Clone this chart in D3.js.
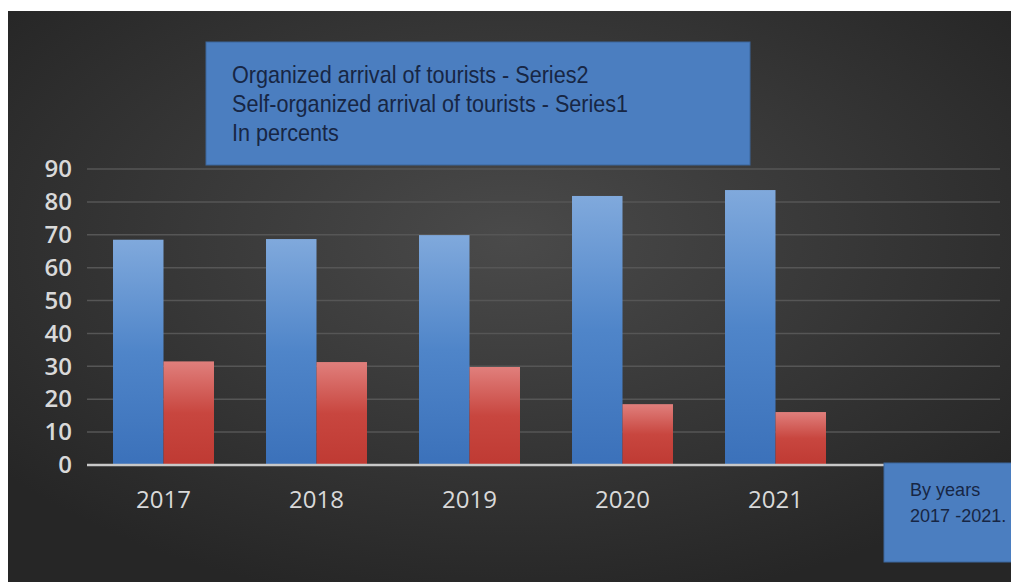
<!DOCTYPE html>
<html>
<head>
<meta charset="utf-8">
<script src="https://cdn.jsdelivr.net/npm/d3@7"></script>
<style>
  body { margin: 0; background: #fff; }
  svg { display: block; }
</style>
</head>
<body>
<svg id="chart" width="1011" height="582"></svg>
<script>
// data
var years = ['2017', '2018', '2019', '2020', '2021'];
var organized = [68.5, 68.7, 69.9, 81.8, 83.6];      // Series2
var selfOrganized = [31.5, 31.3, 29.8, 18.5, 16.1];  // Series1
var yTicks = [0, 10, 20, 30, 40, 50, 60, 70, 80, 90];
var titleLines = [
  'Organized arrival of tourists - Series2',
  'Self-organized arrival of tourists - Series1',
  'In percents'
];
var noteLines = ['By years', '2017 -2021.'];

var svg = d3.select('#chart');
var defs = svg.append('defs');

// background
var bg = defs.append('radialGradient').attr('id', 'bg')
  .attr('cx', '50%').attr('cy', '40%').attr('r', '65%');
bg.append('stop').attr('offset', '0%').attr('stop-color', '#4a4a4a');
bg.append('stop').attr('offset', '100%').attr('stop-color', '#262626');

function barGrad(id, top, mid, bottom) {
  var g = defs.append('linearGradient').attr('id', id)
    .attr('x1', 0).attr('y1', 0).attr('x2', 0).attr('y2', 1);
  g.append('stop').attr('offset', '0%').attr('stop-color', top);
  g.append('stop').attr('offset', '50%').attr('stop-color', mid);
  g.append('stop').attr('offset', '100%').attr('stop-color', bottom);
}
barGrad('blueGrad', '#80a9dc', '#4f85c9', '#3b71ba');
barGrad('redGrad', '#e07f7c', '#c8463f', '#bf3a33');

svg.append('rect')
  .attr('x', 8).attr('y', 11)
  .attr('width', 1003).attr('height', 571)
  .attr('fill', 'url(#bg)');

var plotLeft = 87, plotRight = 1000;
var y = d3.scaleLinear().domain([0, 90]).range([465, 169]);
var x = d3.scaleBand().domain(years).range([87, 852])
  .paddingInner(0.34).paddingOuter(0.17);
var xs = d3.scaleBand().domain(['organized', 'self']).range([0, x.bandwidth()]);

// grid lines
svg.append('g').selectAll('line')
  .data(yTicks.filter(function (d) { return d > 0; }))
  .join('line')
  .attr('x1', plotLeft).attr('x2', plotRight)
  .attr('y1', function (d) { return y(d); })
  .attr('y2', function (d) { return y(d); })
  .attr('stroke', '#565656')
  .attr('stroke-width', 1.5);

// y labels
var yAxis = svg.append('g')
  .attr('transform', 'translate(72,0)')
  .call(d3.axisLeft(y).tickValues(yTicks).tickSize(0).tickPadding(0));
yAxis.select('.domain').remove();
yAxis.selectAll('text')
  .attr('font-family', 'Open Sans, sans-serif')
  .attr('font-size', 24)
  .attr('font-weight', 600)
  .attr('fill', '#d9d9d9');

// bars
var groups = svg.append('g').selectAll('g')
  .data(years)
  .join('g')
  .attr('transform', function (d) { return 'translate(' + x(d) + ',0)'; });

groups.append('rect')
  .attr('x', xs('organized'))
  .attr('width', xs.bandwidth())
  .attr('y', function (d, i) { return y(organized[i]); })
  .attr('height', function (d, i) { return y(0) - y(organized[i]); })
  .attr('fill', 'url(#blueGrad)');

groups.append('rect')
  .attr('x', xs('self'))
  .attr('width', xs.bandwidth())
  .attr('y', function (d, i) { return y(selfOrganized[i]); })
  .attr('height', function (d, i) { return y(0) - y(selfOrganized[i]); })
  .attr('fill', 'url(#redGrad)');

// x axis line + labels
var xAxis = svg.append('g')
  .attr('transform', 'translate(0,' + y(0) + ')')
  .call(d3.axisBottom(x).tickSize(0).tickPadding(26));
xAxis.select('.domain')
  .attr('d', 'M' + plotLeft + ',0H' + plotRight)
  .attr('stroke', '#c8c8c8')
  .attr('stroke-width', 2.5);
xAxis.selectAll('text')
  .attr('font-family', 'Open Sans, sans-serif')
  .attr('font-size', 24)
  .attr('fill', '#d9d9d9');

// text boxes
function textBox(bx, by, bw, bh, lines, tx, ty, lh, size, squeeze) {
  var g = svg.append('g');
  g.append('rect')
    .attr('x', bx).attr('y', by).attr('width', bw).attr('height', bh)
    .attr('fill', '#4b7ec0')
    .attr('stroke', '#3d679c').attr('stroke-width', 1);
  var t = g.append('g')
    .attr('transform', 'translate(' + tx + ',' + ty + ') scale(' + squeeze + ',1)');
  t.selectAll('text')
    .data(lines)
    .join('text')
    .attr('x', 0)
    .attr('y', function (d, i) { return i * lh; })
    .attr('font-family', 'Liberation Sans, Arial, sans-serif')
    .attr('font-size', size)
    .attr('fill', '#172644')
    .text(function (d) { return d; });
}
textBox(206, 42, 544, 123, titleLines, 232, 83, 29, 24, 0.9);
textBox(884, 463, 140, 99, noteLines, 910, 496, 26, 19, 0.95);
</script>
</body>
</html>
